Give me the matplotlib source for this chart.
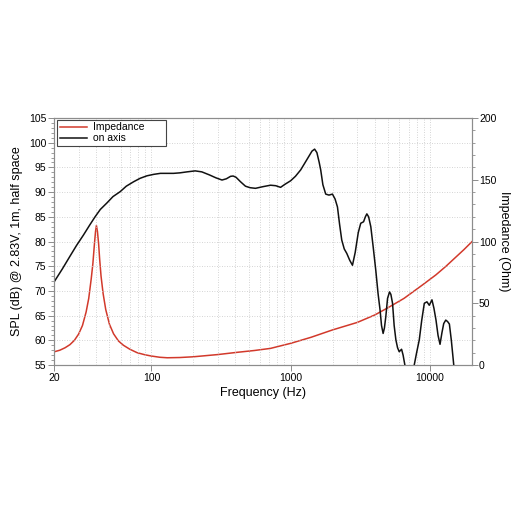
import numpy as np
import matplotlib
matplotlib.use("Agg")
import matplotlib.pyplot as plt
from matplotlib.ticker import FixedLocator, MultipleLocator, NullFormatter

plt.rcParams['font.family'] = ['Liberation Sans', 'DejaVu Sans']

# on-axis SPL (dB)
spl_freq = [20, 23, 26, 29, 32.5, 36, 39.4, 43, 47.9, 53, 59.7, 66, 74.5, 83,
            92.8, 104, 116, 130, 144, 160, 180, 206, 230, 260, 290, 321, 345,
            370, 386, 405, 436, 473, 510, 558, 630, 716, 780, 845, 910, 998,
            1080, 1178, 1300, 1420, 1483, 1540, 1600, 1640, 1700, 1782, 1880,
            1991, 2080, 2163, 2240, 2322, 2420, 2523, 2650, 2772, 2900, 3050,
            3178, 3330, 3430, 3516, 3620, 3753, 3900, 4074, 4230, 4375, 4480,
            4600, 4700, 4809, 4950, 5114, 5230, 5375, 5520, 5680, 5840, 6000,
            6240, 6400, 6590, 6900, 7300, 7690, 8000, 8360, 8700, 9085, 9490,
            9860, 10310, 10650, 11020, 11400, 11780, 12150, 12520, 12950,
            13350, 13750, 14200, 14780, 15500]
spl_db = [71.8, 74.5, 77.0, 79.2, 81.3, 83.3, 85.0, 86.5, 87.8, 89.1, 90.1, 91.2,
          92.1, 92.8, 93.3, 93.6, 93.8, 93.8, 93.8, 93.9, 94.1, 94.3, 94.1, 93.5,
          92.9, 92.45, 92.7, 93.2, 93.26, 93.0, 92.1, 91.2, 90.9, 90.77, 91.1,
          91.4, 91.3, 90.97, 91.6, 92.3, 93.2, 94.5, 96.5, 98.3, 98.7, 98.0,
          96.0, 94.5, 91.5, 89.6, 89.4, 89.6, 88.6, 87.0, 83.5, 80.3, 78.5,
          77.6, 76.2, 75.2, 77.8, 81.8, 83.7, 84.0, 85.0, 85.6, 85.0, 83.0,
          79.0, 74.2, 69.5, 66.1, 63.0, 61.4, 62.5, 64.8, 68.5, 69.8, 69.3,
          67.5, 63.0, 60.1, 58.5, 57.7, 58.2, 57.0, 55.0, 52.0, 51.5, 55.0,
          57.5, 60.1, 64.0, 67.5, 67.8, 67.1, 68.2, 66.5, 64.1, 61.0, 59.2,
          61.5, 63.4, 64.1, 63.8, 63.3, 60.0, 55.0, 50.0]

# impedance (Ohm)
imp_freq = [20, 22, 24, 26, 28, 30, 32, 34, 35.5, 37, 38, 39, 39.7, 40.3, 41,
            41.8, 42.5, 43.5, 45, 47, 50, 53.5, 58, 63, 70, 79, 90, 100, 115,
            130, 160, 200, 300, 412, 550, 716, 1000, 1400, 2000, 3000, 4000,
            5000, 6500, 8800, 11000, 13000, 15000, 17500, 20000]
imp_ohm = [10.7, 12, 14, 16.5, 20, 25, 32, 43, 54, 70, 82, 98, 108, 113, 108,
           98, 86, 72, 58, 45, 33, 25.3, 19.5, 16, 12.8, 10, 8.3, 7.3, 6.3,
           5.9, 6.1, 6.7, 8.5, 10.3, 11.8, 13.5, 17.6, 22.5, 28.5, 34.5, 40.5,
           46.5, 54, 64.8, 73, 80, 86.5, 93.5, 100]

fig = plt.figure(figsize=(5.12, 5.12), dpi=100)
ax = fig.add_axes([0.1055, 0.287, 0.8165, 0.4825])
ax2 = ax.twinx()

spine_col = '#8c8c8c'
grid_kw = dict(color='#c6c6c6', linestyle=(0, (1, 2)), linewidth=0.6)

ax.set_xscale('log')
ax.set_xlim(20, 20000)
ax.set_ylim(55, 105)
ax2.set_ylim(0, 200)

major_x = [20, 100, 1000, 10000]
minor_x = [f for d in [10, 100, 1000, 10000] for f in np.arange(2, 10) * d
           if 20 <= f <= 20000 and f not in major_x]
ax.xaxis.set_major_locator(FixedLocator(major_x))
ax.xaxis.set_minor_locator(FixedLocator(minor_x))
ax.xaxis.set_minor_formatter(NullFormatter())
ax.set_xticklabels([str(v) for v in major_x])

ax.yaxis.set_major_locator(MultipleLocator(5))
ax.yaxis.set_minor_locator(MultipleLocator(1))
ax2.yaxis.set_major_locator(MultipleLocator(50))
ax2.yaxis.set_minor_locator(MultipleLocator(10))

ax.grid(True, which='both', axis='x', **grid_kw)
ax.grid(True, which='major', axis='y', **grid_kw)
ax.set_axisbelow(True)

for a in (ax, ax2):
    for s in a.spines.values():
        s.set_color(spine_col)
        s.set_linewidth(0.8)
    a.tick_params(which='major', length=4, width=0.7, color=spine_col,
                  labelsize=7.5, pad=1.5)
    a.tick_params(which='minor', length=2, width=0.6, color=spine_col)
ax.tick_params(axis='x', which='minor', length=0)
ax2.tick_params(which='major', pad=1)

l_imp, = ax2.plot(imp_freq, imp_ohm, color='#d2392b', lw=1.1)
l_spl, = ax.plot(spl_freq, spl_db, color='#111111', lw=1.1)
ax.set_zorder(ax2.get_zorder() + 1)
ax.patch.set_visible(False)

ax.set_xlabel('Frequency (Hz)', fontsize=9, labelpad=3)
ax.set_ylabel('SPL (dB) @ 2.83V, 1m, half space', fontsize=9, labelpad=4)
ax2.set_ylabel('Impedance (Ohm)', fontsize=9, rotation=270, va='center')
ax2.yaxis.set_label_coords(1.076, 0.5)

leg = ax.legend([l_imp, l_spl], ['Impedance', 'on axis'], loc='upper left',
                bbox_to_anchor=(0.007, 0.993, 0.26, 0), mode='expand',
                fontsize=7.5, handlelength=2.6, handletextpad=0.6,
                labelspacing=0.1, borderpad=0.25, borderaxespad=0,
                fancybox=False, framealpha=1)
leg.get_frame().set_edgecolor('#444444')
leg.get_frame().set_linewidth(0.8)

fig.savefig('out.png', dpi=100)
